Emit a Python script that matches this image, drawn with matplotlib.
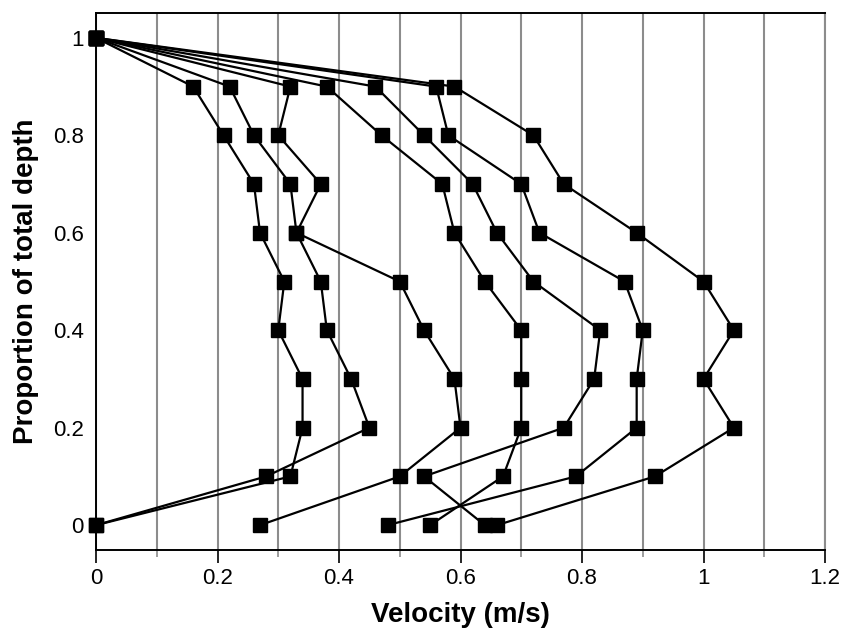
import matplotlib
matplotlib.use("Agg")
import matplotlib.pyplot as plt
from matplotlib.ticker import MultipleLocator, FuncFormatter

plt.rcParams['font.family'] = ['Liberation Sans', 'DejaVu Sans']

depth = [0, 0.1, 0.2, 0.3, 0.4, 0.5, 0.6, 0.7, 0.8, 0.9, 1.0]

profile_a = [0.00, 0.32, 0.34, 0.34, 0.30, 0.31, 0.27, 0.26, 0.21, 0.16, 0.0]
profile_b = [0.00, 0.28, 0.45, 0.42, 0.38, 0.37, 0.33, 0.32, 0.26, 0.22, 0.0]
profile_c = [0.27, 0.50, 0.60, 0.59, 0.54, 0.50, 0.33, 0.37, 0.30, 0.32, 0.0]
profile_d = [0.55, 0.67, 0.70, 0.70, 0.70, 0.64, 0.59, 0.57, 0.47, 0.38, 0.0]
profile_e = [0.64, 0.54, 0.77, 0.82, 0.83, 0.72, 0.66, 0.62, 0.54, 0.46, 0.0]
profile_f = [0.48, 0.79, 0.89, 0.89, 0.90, 0.87, 0.73, 0.70, 0.58, 0.56, 0.0]
profile_g = [0.66, 0.92, 1.05, 1.00, 1.05, 1.00, 0.89, 0.77, 0.72, 0.59, 0.0]

profiles = [profile_a, profile_b, profile_c, profile_d, profile_e, profile_f, profile_g]

fig = plt.figure(figsize=(8.47, 6.30), dpi=100)
ax = fig.add_axes([96/847, 80/630, (825-96)/847, (550-13)/630])

for p in profiles:
    ax.plot(p, depth, color='black', lw=1.6, marker='s', markersize=9.5,
            markerfacecolor='black', markeredgecolor='black', zorder=3, clip_on=False)

ax.set_xlim(0, 1.2)
ax.set_ylim(-0.051, 1.051)

ax.xaxis.set_major_locator(MultipleLocator(0.2))
ax.xaxis.set_minor_locator(MultipleLocator(0.1))
ax.yaxis.set_major_locator(MultipleLocator(0.2))

def fmt(v, pos):
    s = f"{v:.1f}"
    if s.endswith(".0"):
        s = s[:-2]
    if s == "-0":
        s = "0"
    return s

ax.xaxis.set_major_formatter(FuncFormatter(fmt))
ax.yaxis.set_major_formatter(FuncFormatter(fmt))

ax.grid(True, axis='x', which='both', color='#8c8c8c', lw=1.5, zorder=1)
ax.set_axisbelow(True)

ax.tick_params(axis='x', which='major', direction='out', length=9, width=1.2, labelsize=16, pad=4)
ax.tick_params(axis='x', which='minor', direction='out', length=5, width=1.2, color='#8c8c8c')
ax.tick_params(axis='y', which='major', length=0, labelsize=16, pad=9)

for s in ['left', 'bottom', 'top']:
    ax.spines[s].set_linewidth(1.4)
    ax.spines[s].set_color('black')
ax.spines['right'].set_color('#8c8c8c')
ax.spines['right'].set_linewidth(1.5)

ax.set_xlabel('Velocity (m/s)', fontsize=20, fontweight='bold', labelpad=9)
ax.set_ylabel('Proportion of total depth', fontsize=20, fontweight='bold', labelpad=10)

fig.savefig('out.png', dpi=100)
